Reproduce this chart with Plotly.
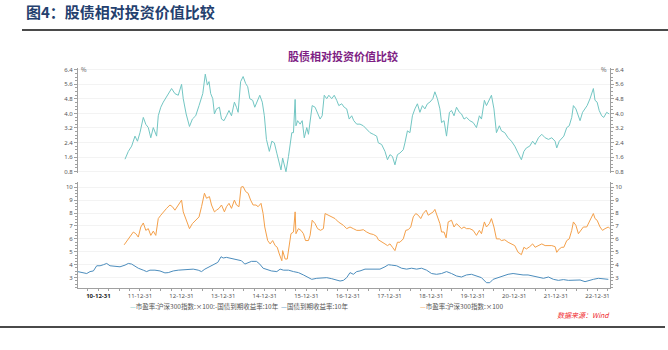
import plotly.graph_objects as go

# ---------------- data (decimal year, value) ----------------
spread_x = [2011.64, 2011.72, 2011.80, 2011.88, 2011.94, 2012.00, 2012.08, 2012.14, 2012.20, 2012.26,
            2012.32, 2012.40, 2012.44, 2012.50, 2012.56, 2012.64, 2012.76, 2012.84, 2012.92, 2013.00,
            2013.04, 2013.11, 2013.19, 2013.26, 2013.34, 2013.42, 2013.51, 2013.57, 2013.62, 2013.66,
            2013.70, 2013.75, 2013.79, 2013.84, 2013.91, 2013.96, 2014.02, 2014.08, 2014.14, 2014.20,
            2014.27, 2014.32, 2014.36, 2014.42, 2014.48, 2014.54, 2014.59, 2014.64, 2014.71, 2014.76,
            2014.83, 2014.88, 2014.94, 2014.99, 2015.04, 2015.11, 2015.17, 2015.23, 2015.29, 2015.34,
            2015.39, 2015.43, 2015.47, 2015.51, 2015.57, 2015.61, 2015.65, 2015.69, 2015.73, 2015.75,
            2015.79, 2015.85, 2015.90, 2015.95, 2016.01, 2016.05, 2016.09, 2016.14, 2016.21, 2016.27,
            2016.33, 2016.38, 2016.43, 2016.49, 2016.54, 2016.61, 2016.67, 2016.73, 2016.78, 2016.85,
            2016.91, 2016.97, 2017.03, 2017.09, 2017.14, 2017.21, 2017.29, 2017.37, 2017.45, 2017.53,
            2017.61, 2017.69, 2017.73, 2017.81, 2017.89, 2017.95, 2018.01, 2018.07, 2018.13, 2018.19,
            2018.25, 2018.33, 2018.37, 2018.43, 2018.49, 2018.55, 2018.61, 2018.67, 2018.73, 2018.79,
            2018.85, 2018.91, 2018.97, 2019.04, 2019.09, 2019.15, 2019.21, 2019.25, 2019.31, 2019.37,
            2019.44, 2019.49, 2019.55, 2019.61, 2019.68, 2019.73, 2019.79, 2019.85, 2019.93, 2020.01,
            2020.09, 2020.16, 2020.21, 2020.28, 2020.33, 2020.40, 2020.45, 2020.51, 2020.57, 2020.64,
            2020.69, 2020.77, 2020.85, 2020.93, 2021.01, 2021.09, 2021.17, 2021.23, 2021.29, 2021.37,
            2021.44, 2021.50, 2021.58, 2021.66, 2021.74, 2021.82, 2021.90, 2021.98, 2022.02, 2022.08,
            2022.14, 2022.19, 2022.26, 2022.32, 2022.38, 2022.42, 2022.48, 2022.54, 2022.58, 2022.64,
            2022.70, 2022.75, 2022.82, 2022.87, 2022.90, 2022.94, 2022.99, 2023.04, 2023.10, 2023.15,
            2023.22, 2023.28]
spread_y = [1.48, 1.91, 2.20, 2.75, 2.47, 2.94, 3.78, 3.40, 3.22, 2.66,
            3.22, 2.75, 3.87, 4.34, 4.62, 4.90, 5.37, 5.09, 5.00, 5.60,
            4.81, 3.97, 3.28, 3.69, 3.87, 4.43, 5.09, 6.16, 5.56, 5.75,
            5.09, 4.81, 3.97, 4.25, 4.34, 3.69, 3.60, 3.87, 4.16, 3.87,
            4.62, 4.34, 4.06, 5.75, 6.03, 5.65, 5.47, 4.81, 4.72, 4.34,
            4.72, 5.00, 4.62, 3.87, 2.57, 1.91, 2.47, 2.38, 1.81, 1.35,
            0.89, 1.54, 1.17, 0.79, 1.63, 2.38, 2.94, 2.94, 4.77, 3.32,
            3.60, 3.41, 3.60, 2.66, 3.22, 2.85, 3.69, 4.43, 4.34, 3.97,
            3.69, 3.87, 5.00, 4.81, 5.00, 4.81, 5.00, 4.72, 4.43, 4.53,
            4.34, 4.25, 3.69, 3.87, 3.60, 3.41, 3.41, 3.32, 3.13, 2.94,
            2.85, 2.75, 2.38, 2.29, 1.91, 1.45, 1.73, 1.63, 1.17, 1.73,
            1.82, 2.00, 2.38, 3.04, 2.94, 3.87, 4.25, 4.53, 4.06, 4.43,
            4.25, 4.53, 4.62, 4.81, 5.19, 4.81, 4.25, 3.50, 3.60, 2.75,
            4.06, 4.16, 3.87, 4.34, 4.06, 3.97, 3.69, 3.78, 3.60, 3.50,
            3.22, 3.87, 3.69, 4.72, 4.43, 4.81, 5.00, 4.25, 2.94, 3.32,
            3.04, 2.94, 2.66, 2.47, 2.20, 1.82, 1.45, 1.91, 2.10, 2.20,
            2.47, 2.29, 2.66, 2.85, 2.66, 2.57, 2.66, 2.47, 2.10, 2.47,
            2.66, 2.75, 3.22, 3.32, 3.78, 4.43, 4.25, 3.78, 3.60, 4.06,
            4.25, 4.43, 4.81, 5.19, 5.37, 4.72, 4.62, 4.16, 3.87, 3.78,
            4.06, 3.97]

ey_x = [2011.62, 2011.70, 2011.76, 2011.84, 2011.90, 2011.96, 2012.02, 2012.08, 2012.14, 2012.20,
        2012.26, 2012.32, 2012.38, 2012.44, 2012.50, 2012.56, 2012.64, 2012.72, 2012.78, 2012.84,
        2012.92, 2013.00, 2013.04, 2013.11, 2013.19, 2013.26, 2013.34, 2013.42, 2013.48, 2013.55,
        2013.60, 2013.67, 2013.72, 2013.79, 2013.84, 2013.90, 2013.96, 2014.03, 2014.08, 2014.14,
        2014.20, 2014.27, 2014.32, 2014.38, 2014.43, 2014.48, 2014.54, 2014.60, 2014.66, 2014.72,
        2014.79, 2014.84, 2014.91, 2014.96, 2015.00, 2015.07, 2015.13, 2015.19, 2015.25, 2015.30,
        2015.35, 2015.41, 2015.43, 2015.49, 2015.54, 2015.58, 2015.63, 2015.69, 2015.73, 2015.75,
        2015.81, 2015.87, 2015.93, 2015.98, 2016.05, 2016.09, 2016.14, 2016.21, 2016.27, 2016.34,
        2016.41, 2016.45, 2016.53, 2016.61, 2016.69, 2016.77, 2016.81, 2016.89, 2016.97, 2017.05,
        2017.13, 2017.21, 2017.29, 2017.37, 2017.45, 2017.53, 2017.61, 2017.69, 2017.73, 2017.81,
        2017.89, 2017.95, 2018.01, 2018.07, 2018.13, 2018.19, 2018.25, 2018.33, 2018.39, 2018.45,
        2018.51, 2018.57, 2018.63, 2018.69, 2018.75, 2018.81, 2018.88, 2018.93, 2018.99, 2019.05,
        2019.09, 2019.15, 2019.21, 2019.25, 2019.31, 2019.36, 2019.41, 2019.49, 2019.55, 2019.61,
        2019.68, 2019.73, 2019.79, 2019.85, 2019.93, 2020.01, 2020.09, 2020.16, 2020.21, 2020.28,
        2020.33, 2020.40, 2020.45, 2020.51, 2020.57, 2020.64, 2020.69, 2020.77, 2020.85, 2020.93,
        2021.01, 2021.09, 2021.17, 2021.23, 2021.29, 2021.37, 2021.44, 2021.50, 2021.58, 2021.66,
        2021.74, 2021.82, 2021.90, 2021.98, 2022.02, 2022.08, 2022.14, 2022.19, 2022.26, 2022.32,
        2022.38, 2022.42, 2022.48, 2022.54, 2022.59, 2022.66, 2022.74, 2022.82, 2022.87, 2022.90,
        2022.94, 2022.99, 2023.06, 2023.12, 2023.18, 2023.26, 2023.30]
ey_y = [5.54, 5.93, 6.19, 6.53, 6.40, 6.14, 6.92, 7.23, 6.66, 6.79,
        6.27, 6.60, 6.27, 7.57, 7.83, 8.09, 8.36, 8.62, 8.49, 8.22,
        8.62, 9.00, 8.09, 7.44, 6.79, 7.18, 7.44, 7.70, 8.49, 9.53,
        9.14, 9.27, 8.62, 8.09, 8.22, 8.36, 8.62, 8.09, 8.49, 8.75,
        8.36, 9.00, 8.62, 8.49, 10.00, 10.05, 9.66, 9.53, 9.00, 8.62,
        8.62, 8.49, 8.75, 7.96, 6.92, 5.87, 5.61, 5.87, 5.48, 5.35,
        4.83, 4.31, 5.09, 4.44, 4.44, 5.35, 6.40, 6.53, 8.09, 6.40,
        6.79, 6.66, 6.40, 5.87, 5.87, 6.27, 7.44, 7.18, 6.79, 6.66,
        6.79, 7.96, 7.83, 7.70, 7.57, 7.31, 7.23, 7.05, 6.79, 6.92,
        6.79, 6.66, 6.66, 6.71, 6.53, 6.40, 6.34, 6.19, 5.93, 5.74,
        5.61, 5.48, 5.61, 5.35, 5.09, 5.74, 5.74, 6.00, 6.66, 6.71,
        6.92, 7.70, 7.96, 7.83, 7.57, 7.96, 8.22, 7.83, 7.96, 8.09,
        8.28, 7.70, 7.18, 6.53, 6.53, 6.08, 7.31, 7.44, 6.92, 7.18,
        6.92, 6.79, 6.92, 6.79, 6.79, 6.66, 6.27, 6.66, 6.40, 7.31,
        6.92, 7.18, 7.57, 6.92, 6.00, 6.00, 5.87, 5.93, 5.74, 5.61,
        5.48, 4.96, 4.78, 5.35, 5.22, 5.40, 5.61, 5.35, 5.48, 5.61,
        5.48, 5.48, 5.48, 5.40, 4.96, 5.22, 5.35, 5.35, 5.87, 6.00,
        6.66, 7.31, 7.05, 6.40, 6.66, 6.92, 6.92, 7.44, 7.70, 7.96,
        7.57, 7.44, 6.92, 6.66, 6.79, 6.92, 6.79]

bond_x = [2010.50, 2010.60, 2010.72, 2010.80, 2010.88, 2010.96, 2011.04, 2011.12, 2011.20, 2011.28,
          2011.40, 2011.52, 2011.64, 2011.72, 2011.80, 2011.86, 2011.96, 2012.08, 2012.16, 2012.24,
          2012.36, 2012.48, 2012.60, 2012.68, 2012.80, 2012.92, 2013.04, 2013.16, 2013.28, 2013.40,
          2013.48, 2013.56, 2013.64, 2013.76, 2013.87, 2013.95, 2014.00, 2014.08, 2014.20, 2014.32,
          2014.44, 2014.52, 2014.60, 2014.68, 2014.80, 2014.88, 2014.96, 2015.04, 2015.16, 2015.29,
          2015.37, 2015.45, 2015.57, 2015.69, 2015.81, 2015.93, 2016.05, 2016.13, 2016.25, 2016.37,
          2016.49, 2016.61, 2016.73, 2016.81, 2016.89, 2016.97, 2017.05, 2017.13, 2017.21, 2017.29,
          2017.41, 2017.53, 2017.65, 2017.77, 2017.89, 2017.97, 2018.05, 2018.17, 2018.29, 2018.41,
          2018.53, 2018.65, 2018.77, 2018.89, 2019.01, 2019.13, 2019.25, 2019.37, 2019.49, 2019.61,
          2019.73, 2019.85, 2019.97, 2020.09, 2020.21, 2020.33, 2020.41, 2020.49, 2020.61, 2020.73,
          2020.85, 2020.97, 2021.09, 2021.21, 2021.33, 2021.46, 2021.58, 2021.70, 2021.82, 2021.94,
          2022.06, 2022.18, 2022.30, 2022.42, 2022.58, 2022.70, 2022.80, 2022.90, 2023.02, 2023.14,
          2023.26]
bond_y = [3.47, 3.39, 3.32, 3.47, 3.52, 3.92, 3.92, 4.00, 4.10, 3.92,
          3.86, 3.84, 3.97, 4.10, 4.05, 3.92, 3.73, 3.58, 3.47, 3.58,
          3.58, 3.52, 3.37, 3.39, 3.52, 3.58, 3.60, 3.63, 3.66, 3.58,
          3.47, 3.66, 3.79, 4.00, 4.18, 4.62, 4.52, 4.57, 4.49, 4.44,
          4.31, 4.05, 4.18, 4.26, 4.26, 4.05, 3.73, 3.66, 3.52, 3.47,
          3.66, 3.58, 3.58, 3.47, 3.39, 3.21, 3.00, 2.87, 2.95, 2.95,
          3.00, 2.92, 2.82, 2.74, 2.79, 3.00, 3.39, 3.26, 3.47, 3.52,
          3.66, 3.66, 3.63, 3.66, 3.84, 4.00, 3.97, 3.92, 3.73, 3.66,
          3.73, 3.66, 3.73, 3.58, 3.32, 3.26, 3.32, 3.47, 3.32, 3.13,
          3.05, 3.21, 3.26, 3.13, 3.00, 2.61, 2.61, 2.87, 3.00, 3.13,
          3.26, 3.32, 3.26, 3.21, 3.21, 3.13, 3.00, 2.95, 3.05, 2.87,
          2.79, 2.85, 2.79, 2.82, 2.82, 2.69, 2.79, 2.87, 2.95, 2.90,
          2.87]

xtick_vals = [2011, 2012, 2013, 2014, 2015, 2016, 2017, 2018, 2019, 2020, 2021, 2022, 2023]
xtick_text = ["10-12-31", "11-12-31", "12-12-31", "13-12-31", "14-12-31", "15-12-31", "16-12-31",
              "17-12-31", "18-12-31", "19-12-31", "20-12-31", "21-12-31", "22-12-31"]
top_ticks = [0.8, 1.6, 2.4, 3.2, 4.0, 4.8, 5.6, 6.4]
bottom_ticks = [3, 4, 5, 6, 7, 8, 9, 10]

name_spread = "市盈率:沪深300指数:×100:-国债到期收益率:10年"
name_bond = "国债到期收益率:10年"
name_ey = "市盈率:沪深300指数:×100"

C_TEAL = "#72C6C3"
C_ORANGE = "#F4A04A"
C_BLUE = "#4C8DBD"

# ---------------- layout geometry (pixels) ----------------
W, H = 668, 350
L, R, T, B = 78, 610, 68, 288
pw, ph = R - L, B - T


def px(x):
    return (x - L) / pw


def py(y):
    return (B - y) / ph


fig = go.Figure()
fig.add_trace(go.Scatter(x=spread_x, y=spread_y, mode="lines", name=name_spread,
                         line=dict(color=C_TEAL, width=1), xaxis="x2", yaxis="y", showlegend=False))
fig.add_trace(go.Scatter(x=ey_x, y=ey_y, mode="lines", name=name_ey,
                         line=dict(color=C_ORANGE, width=1), xaxis="x", yaxis="y3", showlegend=False))
fig.add_trace(go.Scatter(x=bond_x, y=bond_y, mode="lines", name=name_bond,
                         line=dict(color=C_BLUE, width=1), xaxis="x", yaxis="y3", showlegend=False))
# same series attached to the right-hand mirror axes (transparent, so the right axes render)
fig.add_trace(go.Scatter(x=spread_x, y=spread_y, mode="lines", opacity=0, hoverinfo="skip",
                         line=dict(color=C_TEAL, width=1), xaxis="x2", yaxis="y2", showlegend=False))
fig.add_trace(go.Scatter(x=ey_x, y=ey_y, mode="lines", opacity=0, hoverinfo="skip",
                         line=dict(color=C_ORANGE, width=1), xaxis="x", yaxis="y4", showlegend=False))

tickfont = dict(family="Noto Sans, Arial", size=6, color="#555555")
xrange = [2010.51, 2023.30]
axis_common = dict(showline=True, linecolor="#A0A0A0", linewidth=1, ticks="outside", ticklen=3,
                   tickcolor="#A0A0A0", tickfont=tickfont, zeroline=False)

xtick_text_fmt = ["<b><span style='color:#222'>%s</span></b>" % xtick_text[0]] + xtick_text[1:]

fig.update_layout(
    width=W, height=H,
    margin=dict(l=L, r=W - R, t=T, b=H - B),
    paper_bgcolor="white", plot_bgcolor="white",
    xaxis=dict(domain=[0, 1], anchor="y3", range=xrange, tickvals=xtick_vals, ticktext=xtick_text_fmt,
               showgrid=False, minor=dict(ticks="outside", ticklen=2, dtick=0.25, tick0=2011,
                                          tickcolor="#A0A0A0"),
               **axis_common),
    xaxis2=dict(domain=[0, 1], anchor="y", range=xrange, matches="x", visible=False),
    yaxis=dict(domain=[py(173), 1], anchor="x2", range=[0.72, 6.5], tickvals=top_ticks,
               tickformat=".1f", showgrid=True, gridcolor="#F3F3F3", gridwidth=1,
               minor=dict(ticks="outside", ticklen=2, dtick=0.2, tickcolor="#A0A0A0"),
               **axis_common),
    yaxis2=dict(overlaying="y", anchor="x2", side="right", range=[0.72, 6.5], tickvals=top_ticks,
                tickformat=".1f", showgrid=False,
                minor=dict(ticks="outside", ticklen=2, dtick=0.2, tickcolor="#A0A0A0"),
                **axis_common),
    yaxis3=dict(domain=[0, py(182)], anchor="x", range=[2.2, 10.4], tickvals=bottom_ticks,
                showgrid=True, gridcolor="#F3F3F3", gridwidth=1,
                minor=dict(ticks="outside", ticklen=2, dtick=0.25, tickcolor="#A0A0A0"),
                **axis_common),
    yaxis4=dict(overlaying="y3", anchor="x", side="right", range=[2.2, 10.4], tickvals=bottom_ticks,
                showgrid=False,
                minor=dict(ticks="outside", ticklen=2, dtick=0.25, tickcolor="#A0A0A0"),
                **axis_common),
    showlegend=False,
)
fig.update_xaxes(selector=dict(anchor="y3"), ticklen=2)

cjk = "Noto Sans CJK SC"
ann = []
ann.append(dict(text="<b>图4：股债相对投资价值比较</b>", x=px(24), y=py(12), xref="paper", yref="paper",
                xanchor="left", yanchor="middle", showarrow=False,
                font=dict(family=cjk, size=15, color="#24406E")))
ann.append(dict(text="<b>股债相对投资价值比较</b>", x=px(343), y=py(56), xref="paper", yref="paper",
                xanchor="center", yanchor="middle", showarrow=False,
                font=dict(family=cjk, size=11, color="#7E1E84")))
ann.append(dict(text="%", x=px(79), y=py(69), xref="paper", yref="paper", xanchor="left",
                yanchor="middle", showarrow=False, font=dict(family=cjk, size=6, color="#555")))
ann.append(dict(text="%", x=px(609), y=py(69), xref="paper", yref="paper", xanchor="right",
                yanchor="middle", showarrow=False, font=dict(family=cjk, size=6, color="#555")))
ann.append(dict(text="<span style='color:%s'>—</span>%s  <span style='color:%s'>—</span>%s"
                     % (C_TEAL, name_spread, C_BLUE, name_bond),
                x=px(128), y=py(306), xref="paper", yref="paper", xanchor="left", yanchor="middle",
                showarrow=False, font=dict(family=cjk, size=6.5, color="#555")))
ann.append(dict(text="<span style='color:%s'>—</span>%s" % (C_ORANGE, name_ey),
                x=px(418), y=py(306), xref="paper", yref="paper", xanchor="left", yanchor="middle",
                showarrow=False, font=dict(family=cjk, size=6.5, color="#555")))
ann.append(dict(text="<i>数据来源：Wind</i>", x=px(612), y=py(315), xref="paper", yref="paper",
                xanchor="right", yanchor="middle", showarrow=False,
                font=dict(family=cjk, size=7, color="#F0282D")))
fig.update_layout(annotations=ann)

shapes = [
    dict(type="line", xref="paper", yref="paper", x0=px(22), x1=px(668), y0=py(30), y1=py(30),
         line=dict(color="#4A4A4A", width=2)),
    dict(type="line", xref="paper", yref="paper", x0=px(0), x1=px(665), y0=py(327), y1=py(327),
         line=dict(color="#4A4A4A", width=2)),
]
fig.update_layout(shapes=shapes)

fig.write_html("out.html")
